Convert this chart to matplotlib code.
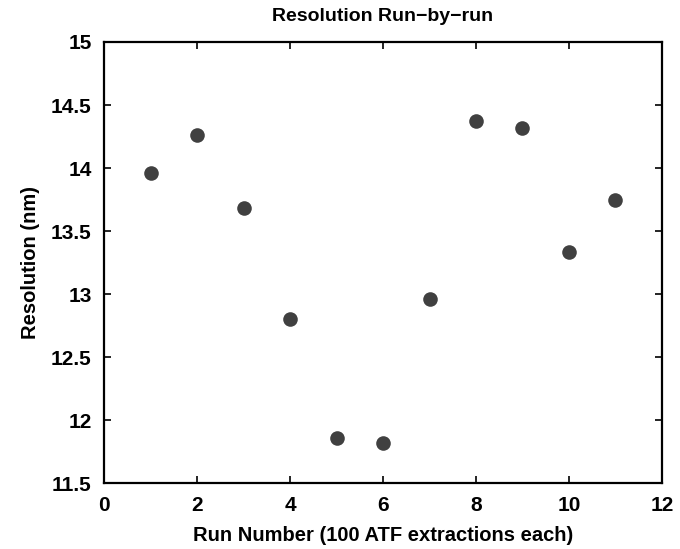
import numpy as np
import matplotlib
matplotlib.use("Agg")
import matplotlib.pyplot as plt

plt.rcParams['font.family'] = ['Liberation Sans', 'DejaVu Sans']
plt.rcParams['font.weight'] = 'bold'

run_number = [1, 2, 3, 4, 5, 6, 7, 8, 9, 10, 11]
resolution = [13.96, 14.26, 13.68, 12.80, 11.86, 11.82, 12.96, 14.37, 14.32, 13.33, 13.75]

xticks = [0, 2, 4, 6, 8, 10, 12]
yticks = [11.5, 12, 12.5, 13, 13.5, 14, 14.5, 15]
ytick_labels = ["11.5", "12", "12.5", "13", "13.5", "14", "14.5", "15"]

fig = plt.figure(figsize=(6.8, 5.49), dpi=100)
ax = fig.add_axes([0.153, 0.1202, 0.8205, 0.8033])

ax.plot(run_number, resolution, 'o', color='#404040', markersize=10.5, markeredgewidth=0)

ax.set_xlim(0, 12)
ax.set_ylim(11.5, 15)
ax.set_xticks(xticks)
ax.set_yticks(yticks)
ax.set_yticklabels(ytick_labels)
ax.tick_params(direction='in', length=5, width=1.2, top=True, right=True,
               labelsize=15, pad=9, colors='black')
for s in ax.spines.values():
    s.set_linewidth(1.6)

ax.set_xlabel("Run Number (100 ATF extractions each)", fontsize=14.5, fontweight='bold', labelpad=8)
ax.set_ylabel("Resolution (nm)", fontsize=14.5, fontweight='bold', labelpad=8)
ax.set_title("Resolution Run\u2212by\u2212run", fontsize=14, fontweight='bold', pad=15)

fig.savefig("out.png", dpi=100)
